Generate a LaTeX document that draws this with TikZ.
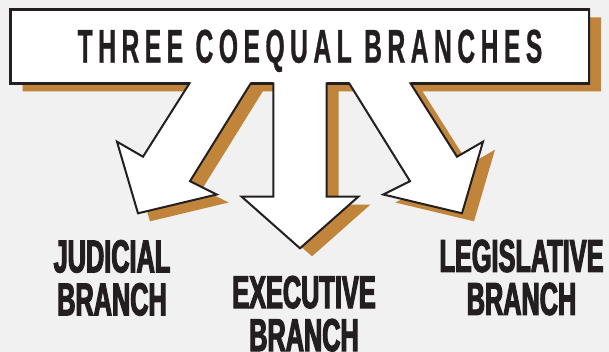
\documentclass[tikz,border=0pt]{standalone}
\usepackage{fontspec}
\usetikzlibrary{positioning}
\newfontfamily\titlefont[FakeStretch=0.52,LetterSpace=11.5,FakeBold=0.6]{Liberation Sans}
\newfontfamily\branchfont[FakeStretch=0.55,FakeBold=2.5]{Liberation Sans}
\definecolor{bg}{HTML}{F1F1F1}
\definecolor{copper}{HTML}{C0843A}
\definecolor{ink}{HTML}{231F20}

\tikzset{
  branches/.pic={
    \path[pic actions] (10.7,9.3) -- (589,9.3) -- (589,83.3)
      % legislative arrow
      -- (410.5,83.3) -- (457,156.7) -- (483,141.7) -- (462,213.3)
      -- (383.3,194.5) -- (410,181.2) -- (349.2,83.3)
      % executive arrow
      -- (326.7,83.3) -- (326.7,196.7) -- (358.3,196.7) -- (300,248.3)
      -- (241.7,196.7) -- (273.3,196.7) -- (273.3,83.3)
      % judicial arrow
      -- (250.8,83.3) -- (190,181.2) -- (216.7,194.5) -- (138,213.3)
      -- (117,141.7) -- (143,156.7) -- (189.5,83.3)
      -- (10.7,83.3) -- cycle;
  }
}

\begin{document}
\begin{tikzpicture}[x=1pt,y=-1pt,
shadow/.style = {fill=copper},
panel/.style = {fill=white, draw=ink, line width=2pt, line join=miter},
frame/.style = {draw=ink, line width=2.7pt, line join=miter},
heading/.style = {font=\titlefont\bfseries\fontsize{47.5}{50}\selectfont, text=ink,
                  inner sep=0pt},
branch/.style = {font=\branchfont\bfseries\fontsize{46}{43}\selectfont, text=ink,
                 align=center, inner sep=0pt}]

\fill[bg] (0,0) rectangle (609,352);
\useasboundingbox (0,0) rectangle (609,352);

% shadow first, then the white shape
\pic[shadow] at (12,8) {branches};
\pic[panel] {branches};
\draw[frame] (189.5,83.3) -- (10.7,83.3) -- (10.7,9.3) -- (589,9.3) -- (589,83.3) -- (410.5,83.3);
\draw[frame] (349.2,83.3) -- (326.7,83.3);
\draw[frame] (273.3,83.3) -- (250.8,83.3);

\node[heading, anchor=base] (title) at (310,62.7) {THREE COEQUAL BRANCHES};

\node[branch] (judicial) at (112,277.9) {JUDICIAL\\BRANCH};
\node[branch] (executive) at (304,313.7) {EXECUTIVE\\BRANCH};
\node[branch] (legislative) at (521.5,277.5) {LEGISLATIVE\\BRANCH};
\end{tikzpicture}
\end{document}
